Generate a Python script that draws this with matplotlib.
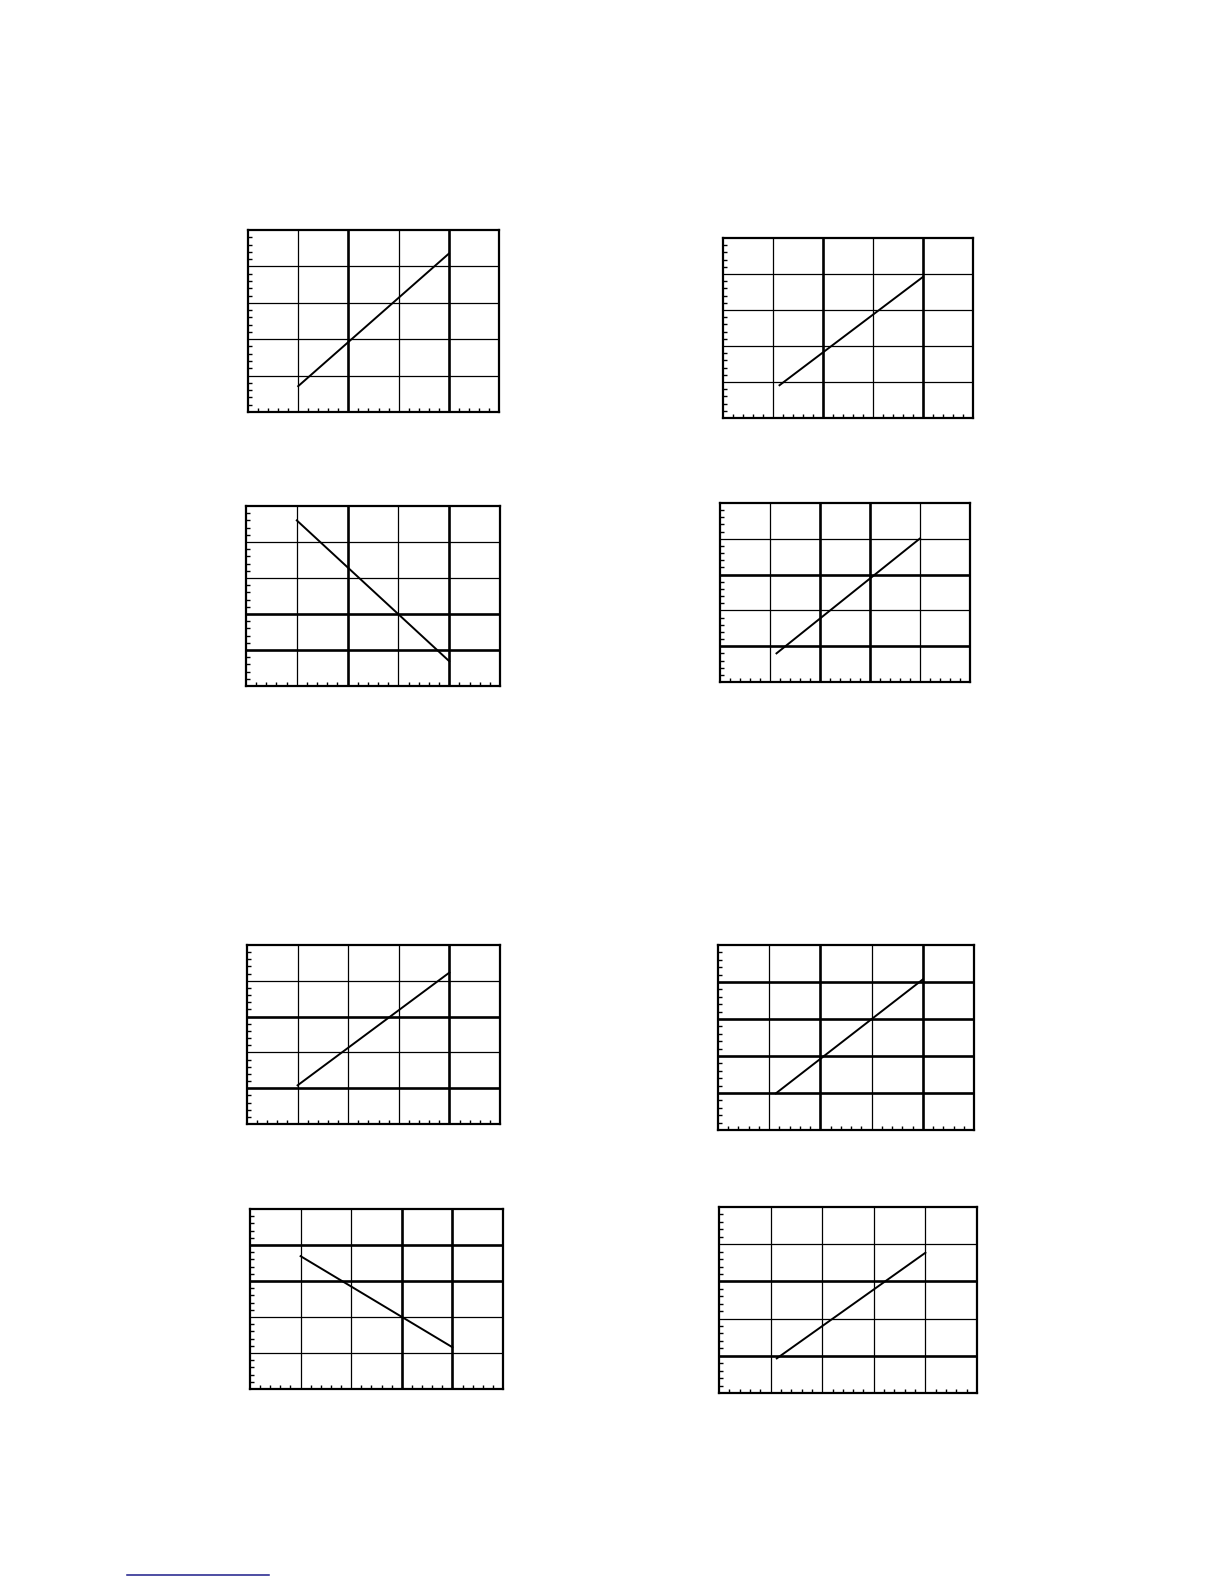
import matplotlib
matplotlib.use("Agg")
import matplotlib.pyplot as plt
from matplotlib.ticker import MultipleLocator, NullFormatter

# line end points (grid units, 5 x 5 divisions)
x_start = [1.0, 1.13, 1.0, 1.13, 1.0, 1.13, 1.0, 1.12]
y_start = [0.71, 0.91, 4.60, 0.80, 1.08, 0.99, 3.69, 0.93]
x_end = [4.0, 4.0, 4.0, 4.0, 4.0, 4.0, 4.0, 4.0]
y_end = [4.35, 3.92, 0.69, 4.01, 4.23, 4.07, 1.16, 3.77]

# grid lines drawn heavier in the scan
thick_x = [[2, 4], [2, 4], [2, 4], [2, 3], [4], [2, 4], [3, 4], []]
thick_y = [[], [], [1, 2], [1, 3], [1, 3], [1, 2, 3, 4], [3, 4], [1, 3]]

# layout: pixel boxes (left, top, right, bottom)
boxes = [
    (248, 230, 499, 412),
    (723, 238, 973, 418),
    (246, 506, 500, 686),
    (720, 503, 970, 682),
    (247, 945, 500, 1124),
    (718, 945, 974, 1130),
    (250, 1209, 503, 1389),
    (719, 1207, 977, 1393),
]

W, H = 1224, 1584
fig = plt.figure(figsize=(W / 100, H / 100), dpi=100)
fig.patch.set_facecolor("white")

for i, (l, t, r, b) in enumerate(boxes):
    ax = fig.add_axes([l / W, 1 - b / H, (r - l) / W, (b - t) / H])
    ax.set_xlim(0, 5)
    ax.set_ylim(0, 5)
    for k in range(1, 5):
        ax.axvline(k, color="black", lw=1.9 if k in thick_x[i] else 0.9, zorder=1)
        ax.axhline(k, color="black", lw=1.9 if k in thick_y[i] else 0.9, zorder=1)
    ax.plot([x_start[i], x_end[i]], [y_start[i], y_end[i]],
            color="black", lw=1.4, zorder=3)
    for s in ax.spines.values():
        s.set_linewidth(1.6)
    ax.xaxis.set_major_locator(MultipleLocator(1))
    ax.yaxis.set_major_locator(MultipleLocator(1))
    ax.xaxis.set_minor_locator(MultipleLocator(0.2))
    ax.yaxis.set_minor_locator(MultipleLocator(0.2))
    ax.xaxis.set_major_formatter(NullFormatter())
    ax.yaxis.set_major_formatter(NullFormatter())
    ax.tick_params(which="major", length=0)
    ax.tick_params(which="minor", direction="in", length=3, width=1.0,
                   top=False, right=False)

# underline near the page foot
fig.add_artist(plt.Line2D([127 / W, 269 / W], [1 - 1575 / H, 1 - 1575 / H],
                          color="#1c1c8a", lw=1.1))

fig.savefig("out.png", dpi=100, facecolor="white")
